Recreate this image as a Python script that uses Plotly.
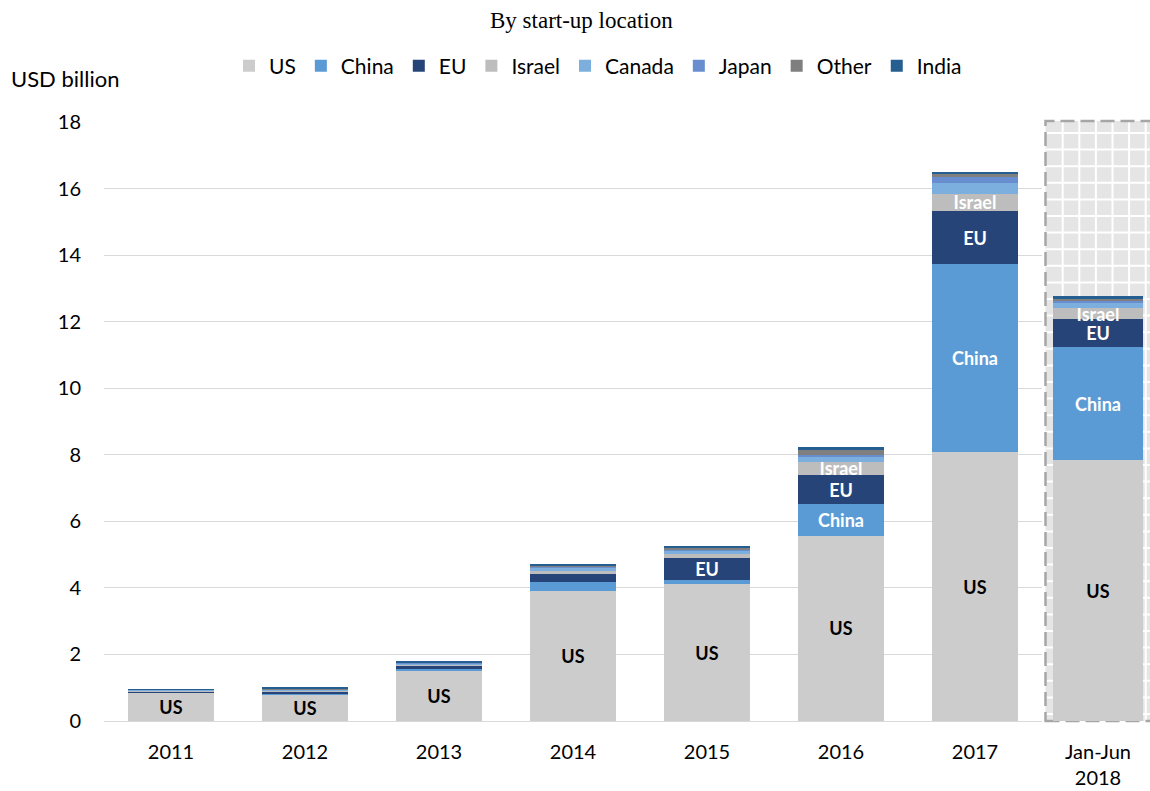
import plotly.graph_objects as go

# ---- data ----
years = ['2011', '2012', '2013', '2014', '2015', '2016', '2017']
half_year = ['Jan-Jun<br>2018']

series_names = ['US', 'China', 'EU', 'Israel', 'Canada', 'Japan', 'Other', 'India']

us     = [0.85, 0.80, 1.51, 3.91, 4.11, 5.56, 8.08]
china  = [0.01, 0.02, 0.05, 0.26, 0.13, 0.96, 5.65]
eu     = [0.03, 0.08, 0.10, 0.25, 0.65, 0.87, 1.59]
israel = [0.02, 0.02, 0.04, 0.10, 0.13, 0.40, 0.53]
canada = [0.04, 0.03, 0.03, 0.09, 0.10, 0.15, 0.32]
japan  = [0.00, 0.01, 0.02, 0.04, 0.04, 0.05, 0.18]
other  = [0.00, 0.01, 0.02, 0.03, 0.04, 0.15, 0.08]
india  = [0.01, 0.03, 0.03, 0.03, 0.04, 0.08, 0.07]

# Jan-Jun 2018 (same order as series_names)
h2018 = [7.84, 3.40, 0.84, 0.32, 0.18, 0.03, 0.09, 0.06]

# which bars carry an in-bar label for each series
labelled = {
    'US': years + half_year,
    'China': ['2016', '2017'] + half_year,
    'EU': ['2015', '2016', '2017'] + half_year,
    'Israel': ['2016', '2017'] + half_year,
}

colors = {
    'US': '#cccccc', 'China': '#5b9bd5', 'EU': '#264478', 'Israel': '#bdbdbd',
    'Canada': '#7cafdd', 'Japan': '#698ed0', 'Other': '#7f7f7f', 'India': '#255e91',
}

values = dict(zip(series_names, [us, china, eu, israel, canada, japan, other, india]))

FONT = 'Lato'
W, H = 1150, 791
L, R, T, B = 104, 0, 122, 70
PW = W - L - R

fig = go.Figure()

for i, name in enumerate(series_names):
    lab = labelled.get(name, [])
    txtcol = 'black' if name == 'US' else 'white'
    fig.add_trace(go.Bar(
        x=years, y=values[name], name=name, marker_color=colors[name],
        marker_line_width=0, width=0.64,
        text=[name if c in lab else '' for c in years],
        textposition='inside', insidetextanchor='middle', textangle=0,
        textfont=dict(family=FONT, size=18, color=txtcol, weight='bold'),
        xaxis='x', yaxis='y', legendgroup=name, showlegend=True,
        hoverinfo='x+y+name',
    ))
    fig.add_trace(go.Bar(
        x=half_year, y=[h2018[i]], name=name, marker_color=colors[name],
        marker_line_width=0, width=0.856,
        text=[name if half_year[0] in lab else ''],
        textposition='inside', insidetextanchor='middle', textangle=0,
        textfont=dict(family=FONT, size=18, color=txtcol, weight='bold'),
        xaxis='x2', yaxis='y2', legendgroup=name, showlegend=False,
        hoverinfo='y+name',
    ))

# ---- highlighted (partial year) panel ----
def px_x(p):
    return (p - L) / PW

def px_y(p):
    return (H - B - p) / (H - T - B)

box_x0 = px_x(1045.5)
box_x1 = px_x(W + 30)
box_top = px_y(121)
shapes = [dict(type='rect', xref='paper', yref='paper', x0=box_x0, x1=box_x1,
               y0=0, y1=box_top, fillcolor='#e5e5e5', line_width=0, layer='below')]
xx = 1062.7
while xx < W + 5:
    shapes.append(dict(type='line', xref='paper', yref='paper', x0=px_x(xx), x1=px_x(xx),
                       y0=0, y1=box_top, line=dict(color='white', width=2), layer='below'))
    xx += 16.6
yy = 133.0
while yy < H - B:
    shapes.append(dict(type='line', xref='paper', yref='paper', x0=box_x0, x1=box_x1,
                       y0=px_y(yy), y1=px_y(yy), line=dict(color='white', width=2), layer='below'))
    yy += 16.6
shapes.append(dict(type='rect', xref='paper', yref='paper', x0=box_x0, x1=box_x1,
                   y0=0, y1=box_top, fillcolor='rgba(0,0,0,0)',
                   line=dict(color='#a6a6a6', width=2.5, dash='14px,6px'), layer='below'))

fig.update_layout(
    width=W, height=H,
    margin=dict(l=L, r=R, t=T, b=B),
    paper_bgcolor='white', plot_bgcolor='white',
    barmode='stack',
    font=dict(family=FONT, size=20, color='black'),
    uniformtext=dict(minsize=18, mode='show'),
    showlegend=True,
    legend=dict(orientation='h', xref='container', yref='container',
                x=598 / W, xanchor='center', y=1 - 66 / H, yanchor='middle',
                font=dict(family=FONT, size=21), traceorder='normal',
                itemwidth=30, bgcolor='rgba(0,0,0,0)'),
    xaxis=dict(domain=[0, 938 / PW], type='category', showgrid=False, showline=False,
               zeroline=False, ticks='outside', ticklen=13, tickcolor='rgba(0,0,0,0)',
               tickfont=dict(family=FONT, size=20)),
    xaxis2=dict(domain=[942 / PW, 1], type='category', anchor='y2', showgrid=False,
                showline=False, zeroline=False, ticks='outside', ticklen=13,
                tickcolor='rgba(0,0,0,0)', tickfont=dict(family=FONT, size=20)),
    yaxis=dict(range=[0, 18], dtick=2, showgrid=True, gridcolor='#d9d9d9', gridwidth=1,
               zeroline=True, zerolinecolor='#d9d9d9', zerolinewidth=1, showline=False,
               ticks='outside', ticklen=18, tickcolor='rgba(0,0,0,0)',
               tickfont=dict(family=FONT, size=20)),
    yaxis2=dict(range=[0, 18], anchor='x2', matches='y', showgrid=False, zeroline=False,
                showline=False, showticklabels=False),
    shapes=shapes,
    annotations=[
        dict(text='By start-up location', xref='paper', yref='paper',
             x=px_x(581), y=px_y(20), xanchor='center', yanchor='middle', showarrow=False,
             font=dict(family='Liberation Serif', size=23, color='black')),
        dict(text='USD billion', xref='paper', yref='paper',
             x=px_x(9), y=px_y(78), xanchor='left', yanchor='middle', showarrow=False,
             font=dict(family=FONT, size=22, color='black')),
    ],
)

fig.write_html('out.html', config={'displayModeBar': False},
               post_script="document.body.style.margin='0';document.body.style.overflow='hidden';")
